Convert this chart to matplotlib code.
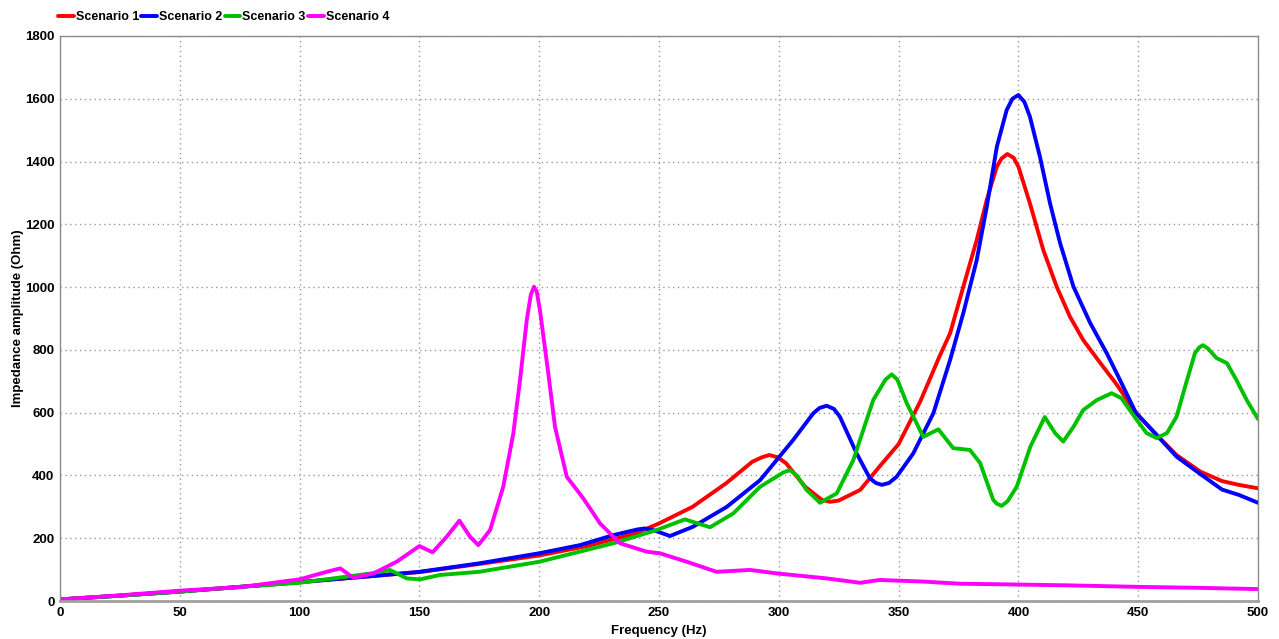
import matplotlib
matplotlib.use("Agg")
import matplotlib.pyplot as plt

plt.rcParams['font.family'] = ['Liberation Sans', 'DejaVu Sans']
plt.rcParams['font.weight'] = 'bold'

# impedance sweeps, frequency in Hz / amplitude in Ohm
freq_s1 = [0, 25, 50, 75, 100, 125, 150, 175, 200, 220, 240, 250, 264, 278, 289, 293, 296,
           299.5, 303, 311, 318, 321.5, 325, 334, 342, 350, 359, 367, 371.5, 377, 382.6,
           386.8, 391, 393, 395.4, 398, 400, 404.8, 410.4, 416, 421.5, 427, 434, 441, 449,
           457.7, 466, 476, 485, 492, 500]
imp_s1 = [5, 17, 30, 45, 60, 76, 92, 118, 145, 175, 215, 247, 300, 375, 444, 458, 465,
          458, 439, 364, 322, 316, 320, 354, 428, 500, 635, 778, 853, 1001, 1150,
          1278, 1384, 1410, 1424, 1412, 1384, 1267, 1118, 1001, 906, 832, 760, 690, 600,
          529, 465, 412, 382, 370, 359]

freq_s2 = [0, 25, 50, 75, 100, 131, 150, 175, 200, 217, 231, 241, 244, 247.6, 254.6, 264.3,
           278.3, 292.2, 306, 314.4, 317, 320, 323, 325.5, 332.5, 338, 340.5, 343, 346,
           349.2, 356.1, 364.5, 371.5, 377, 382.6, 386.8, 391, 395.1, 397.5, 400, 402.5,
           404.8, 409, 413.2, 417.4, 423, 430, 436.9, 441.7, 449, 457.7, 466, 476, 485,
           492, 500]
imp_s2 = [5, 17, 30, 45, 60, 80, 93, 120, 152, 178, 210, 228, 231, 226, 207, 237,
          300, 385, 513, 598, 615, 622, 612, 587, 470, 391, 376, 370, 376,
          396, 470, 598, 768, 917, 1086, 1256, 1447, 1564, 1600, 1612, 1590,
          1543, 1415, 1267, 1140, 1001, 885, 789, 715, 600, 529, 460, 404, 355,
          338, 313]

freq_s3 = [0, 25, 50, 75, 100, 122, 130, 137.7, 144.7, 150.3, 158.6, 175, 200, 231, 249,
           260.8, 271.3, 281, 292.2, 302, 304.7, 307.5, 311.6, 317.2, 324.2, 331.1, 339.4,
           344.5, 347.1, 349.5, 353.4, 360.3, 366.6, 372.8, 379.8, 384, 389.5, 391, 393,
           395.5, 399.3, 405, 411, 415.3, 418.7, 423, 427, 432.7, 438.9, 443, 449.4, 453.5,
           457.7, 462, 466, 470, 473.7, 475.5, 477, 479, 482.7, 487, 491, 495.3, 500]
imp_s3 = [5, 17, 30, 45, 58, 80, 88, 99, 72, 69, 83, 93, 125, 184, 226,
          260, 235, 279, 364, 410, 417, 400, 354, 313, 343, 449, 640,
          705, 722, 705, 630, 523, 547, 487, 481, 440, 322, 310, 303,
          318, 364, 492, 586, 535, 508, 555, 608, 640, 662, 646, 577, 535,
          519, 535, 587, 694, 790, 808, 815, 805, 774, 758, 704, 640, 580]

freq_s4 = [0, 25, 50, 75, 100, 111.3, 117, 122.4, 130.8, 140.5, 150, 155.5, 161.4, 166.7,
           171.1, 174.6, 179.5, 185, 189.2, 192, 194.8, 196.5, 197.8, 199, 200.3, 203.8,
           206.6, 211.5, 218.4, 225.4, 233.7, 244.9, 250.4, 261.6, 274, 288, 299, 320, 334,
           342, 360, 376, 395, 420, 450, 475, 500]
imp_s4 = [5, 18, 33, 44, 69, 93, 104, 74, 88, 125, 175, 155, 205, 256,
          205, 178, 226, 364, 534, 704, 895, 975, 1001, 985, 927, 725,
          555, 396, 327, 247, 184, 157, 152, 125, 93, 99, 88, 72, 58,
          67, 62, 55, 53, 50, 45, 42, 38]

labels = ['Scenario 1', 'Scenario 2', 'Scenario 3', 'Scenario 4']
colors = ['#ff0000', '#0000ff', '#00c000', '#ff00ff']

fig = plt.figure(figsize=(12.79, 6.39), dpi=100)
ax = fig.add_axes([60 / 1279, 1 - 601 / 639, 1198 / 1279, 565 / 639])

series = [(freq_s1, imp_s1), (freq_s2, imp_s2), (freq_s3, imp_s3), (freq_s4, imp_s4)]
for (f, v), lab, c in zip(series, labels, colors):
    ax.plot(f, v, color=c, lw=2.8, label=lab, solid_capstyle='round', solid_joinstyle='round')

ax.set_xlim(0, 500)
ax.set_ylim(0, 1800)
ax.set_xticks(range(0, 501, 50))
ax.set_yticks(range(0, 1801, 200))
ax.grid(True, color='#999999', linestyle=(0, (1, 2.5)), linewidth=1)
ax.tick_params(length=0, labelsize=9.5, pad=4)
for lbl in ax.get_xticklabels() + ax.get_yticklabels():
    lbl.set_fontweight('bold')
for side in ['left', 'right', 'top']:
    ax.spines[side].set_color('#8c8c8c')
    ax.spines[side].set_linewidth(1)
ax.spines['bottom'].set_color('#a0a0a0')
ax.spines['bottom'].set_linewidth(2)

ax.set_xlabel('Frequency (Hz)', fontsize=9.5, fontweight='bold')
ax.set_ylabel('Impedance amplitude (Ohm)', fontsize=9.5, fontweight='bold')
ax.xaxis.set_label_coords(0.5, -0.043)
ax.yaxis.set_label_coords(-0.030, 0.5)

fig.legend(loc='center left', bbox_to_anchor=(58 / 1279, 1 - 17 / 639), ncol=4,
           frameon=False, prop={'size': 9, 'weight': 'bold'}, handlelength=1.25,
           handletextpad=0.15, columnspacing=0.2, borderpad=0, borderaxespad=0)

fig.savefig('out.png', dpi=100)
